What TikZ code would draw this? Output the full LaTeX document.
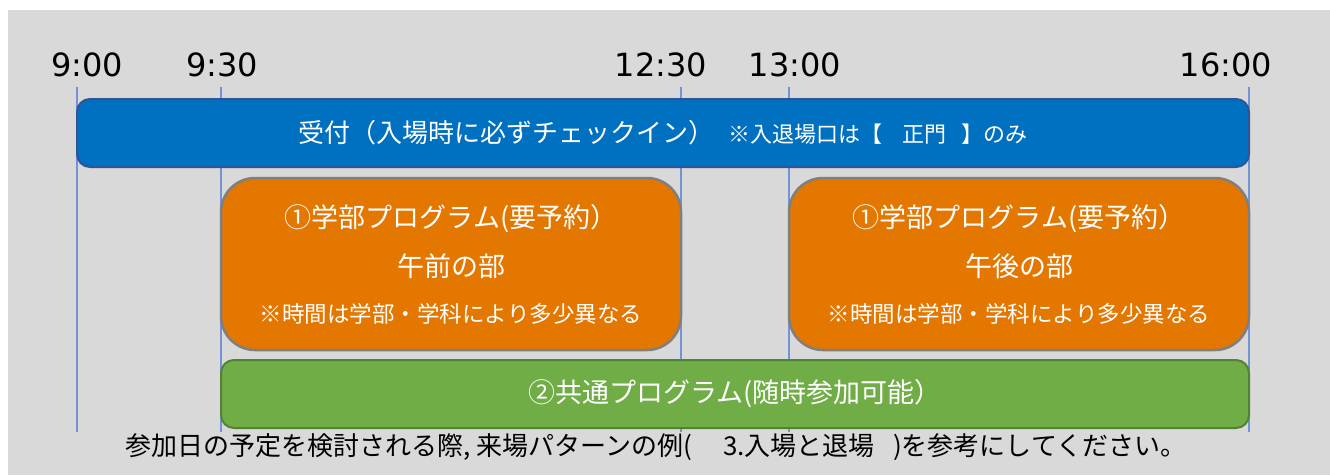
\documentclass[tikz,border=0pt]{standalone}
\usepackage{fontspec}
\setmainfont{Noto Sans CJK JP}
\newfontfamily\digitfont{DejaVu Sans}
\usepackage{tikz}
\definecolor{bggray}{RGB}{217,217,217}
\definecolor{receptblue}{RGB}{0,112,192}
\definecolor{receptedge}{RGB}{47,85,151}
\definecolor{progorange}{RGB}{227,119,0}
\definecolor{progedge}{RGB}{127,127,127}
\definecolor{commongreen}{RGB}{112,173,71}
\definecolor{commonedge}{RGB}{84,130,53}
\definecolor{tickblue}{RGB}{114,147,212}

\begin{document}
\begin{tikzpicture}[x=1pt, y=-1pt,
    timelabel/.style={font=\digitfont\fontsize{32}{36}\selectfont, inner sep=0pt},
    tickline/.style={draw=tickblue, line width=1.3pt},
    bar/.style={text=white, inner sep=0pt, align=center},
    progbox/.style={bar, fill=progorange, draw=progedge, line width=2.5pt, rounded corners=34pt,
        minimum width=460pt, minimum height=172pt, font=\fontsize{27}{49}\selectfont}]
    \useasboundingbox (0,0) rectangle (1330,475);
    \fill[bggray] (8,10) rectangle (1330,475);

    % Time labels
    \node[timelabel] (t0900) at (87,65) {9:00};
    \node[timelabel] (t0930) at (222,65) {9:30};
    \node[timelabel] (t1230) at (661,65) {12:30};
    \node[timelabel] (t1300) at (795,65) {13:00};
    \node[timelabel] (t1600) at (1226,65) {16:00};

    % Time lines
    \coordinate (top0900) at (77,87);   \coordinate (bot0900) at (77,432);
    \coordinate (top0930) at (221,87);  \coordinate (bot0930) at (221,432);
    \coordinate (top1230) at (681,87);  \coordinate (bot1230) at (681,432);
    \coordinate (top1300) at (789,87);  \coordinate (bot1300) at (789,432);
    \coordinate (top1600) at (1249,87); \coordinate (bot1600) at (1249,432);
    \foreach \t in {0900,0930,1230,1300,1600}
        \draw[tickline] (top\t) -- (bot\t);

    % Reception
    \node[bar, fill=receptblue, draw=receptedge, line width=2pt, rounded corners=13pt,
          minimum width=1172pt, minimum height=68pt] (uketsuke) at (663,133)
        {{\fontsize{26}{30}\selectfont 受付（入場時に必ずチェックイン）}\hspace{14pt}%
         {\fontsize{22}{26}\selectfont ※入退場口は【\hspace{0.9em}正門\hspace{0.7em}】のみ}};

    % Faculty programs
    \node[progbox] (gozen) at (451,264)
        {①学部プログラム(要予約）\\午前の部\\[-3pt]{\fontsize{22.5}{46}\selectfont ※時間は学部・学科により多少異なる}};
    \node[progbox] (gogo) at (1019,264)
        {①学部プログラム(要予約）\\午後の部\\[-3pt]{\fontsize{22.5}{46}\selectfont ※時間は学部・学科により多少異なる}};

    % Common program
    \node[bar, fill=commongreen, draw=commonedge, line width=2pt, rounded corners=13pt,
          minimum width=1028pt, minimum height=68pt, font=\fontsize{27}{31}\selectfont] (kyotsu) at (735,394)
        {②共通プログラム(随時参加可能）};

    % Note
    \node[inner sep=0pt, font=\fontsize{26}{30}\selectfont] (note) at (656,447)
        {参加日の予定を検討される際, 来場パターンの例(\hspace{1.2em}3.入場と退場\hspace{0.7em})を参考にしてください。};
\end{tikzpicture}
\end{document}
